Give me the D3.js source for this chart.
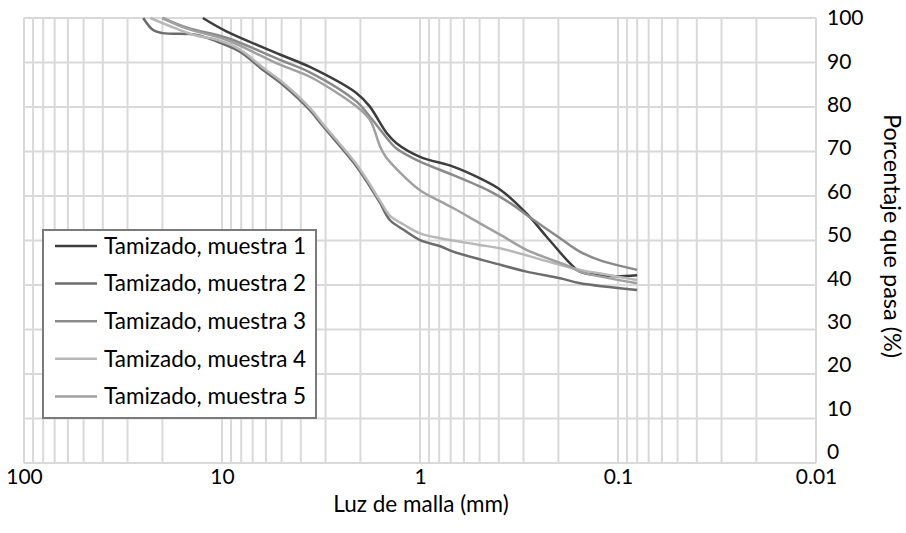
<!DOCTYPE html>
<html>
<head>
<meta charset="utf-8">
<script src="https://cdn.jsdelivr.net/npm/d3@7"></script>
<style>
  html, body { margin: 0; padding: 0; background: #fff; }
  svg { display: block; }
  text { font-family: Lato, "Noto Sans", sans-serif; fill: #000; }
</style>
</head>
<body>
<svg id="chart" width="906" height="533"></svg>
<script>
// Sieve openings (mm) and percentage passing for each sample
const seriesNames = [
  "Tamizado, muestra 1",
  "Tamizado, muestra 2",
  "Tamizado, muestra 3",
  "Tamizado, muestra 4",
  "Tamizado, muestra 5"
];
const seriesColors = ["#3d3d3d", "#6c6c6c", "#8a8a8a", "#b8b8b8", "#a0a0a0"];

const sizes1 = [12.5, 9.5, 5.1, 3.6, 2.09, 1.8, 1.47, 1.31, 1.0, 0.68, 0.5, 0.39, 0.29, 0.23, 0.175, 0.156, 0.11, 0.08];
const pass1  = [100, 97, 91.8, 89, 83.1, 80.2, 74.1, 71.8, 68.8, 66.6, 64, 61.3, 56.1, 50.9, 44.9, 43, 42, 42.2];

const sizes2 = [25, 22.3, 19.9, 13.4, 10.6, 8.1, 6.2, 4.9, 3.6, 3.08, 2.09, 1.79, 1.59, 1.42, 1.21, 1.0, 0.79, 0.68, 0.39, 0.29, 0.196, 0.155, 0.08];
const pass2  = [100, 97.3, 96.6, 96.2, 94.7, 92.4, 88.3, 84.9, 79.3, 75.6, 66.6, 62.1, 58.4, 54.6, 52.4, 50.1, 48.7, 47.5, 44.5, 43, 41.5, 40.4, 38.9];

const sizes3 = [20, 15, 9.4, 5.1, 3.6, 2.09, 1.79, 1.42, 1.31, 1.0, 0.68, 0.44, 0.35, 0.28, 0.196, 0.156, 0.124, 0.08];
const pass3  = [100, 97.8, 95.5, 90.6, 87.8, 81.2, 77.8, 72.2, 70.6, 67.7, 64.7, 61.0, 58.4, 55.3, 50.5, 47.5, 45.6, 43.4];

const sizes4 = [23, 17, 13.4, 10.6, 8.1, 6.2, 4.9, 3.6, 3.08, 2.09, 1.79, 1.59, 1.42, 1.21, 1.0, 0.79, 0.5, 0.39, 0.21, 0.155, 0.11, 0.08];
const pass4  = [100, 97.6, 96.0, 95.1, 92.9, 88.8, 85.4, 79.8, 76.1, 67.1, 62.6, 58.9, 55.6, 53.6, 51.6, 50.5, 49, 48.2, 44.9, 43.4, 42.2, 41.1];

const sizes5 = [20, 15, 9.4, 5.1, 3.6, 2.09, 1.79, 1.59, 1.49, 1.25, 1.0, 0.79, 0.68, 0.5, 0.39, 0.29, 0.175, 0.156, 0.08];
const pass5  = [100, 97.6, 95, 89.5, 86.8, 80.1, 77.1, 71.1, 68.8, 65.1, 61.3, 58.8, 57.3, 53.9, 51.2, 47.9, 44.1, 43, 40.4];

const xTickValues = [100, 10, 1, 0.1, 0.01];
const xTickLabels = ["100", "10", "1", "0.1", "0.01"];
const yTickValues = [0, 10, 20, 30, 40, 50, 60, 70, 80, 90, 100];

const xTitle = "Luz de malla (mm)";
const yTitle = "Porcentaje que pasa (%)";

const allSizes = [sizes1, sizes2, sizes3, sizes4, sizes5];
const allPass = [pass1, pass2, pass3, pass4, pass5];
const series = seriesNames.map((name, i) => ({
  name,
  color: seriesColors[i],
  points: allSizes[i].map((s, j) => ({ size: s, pass: allPass[i][j] }))
}));

const svg = d3.select("#chart");
const plotLeft = 24, plotRight = 816, plotTop = 18, plotBottom = 463;

const x = d3.scaleLog().domain([100, 0.01]).range([plotLeft, plotRight]);
const y = d3.scaleLinear().domain([0, 100]).range([plotBottom, plotTop]);

// Grid: every 1–9 multiple on the log axis, every 10 % on the vertical axis
const grid = svg.append("g").attr("stroke", "#d9d9d9").attr("stroke-width", 2);
grid.selectAll("line.v").data(x.ticks()).join("line")
  .attr("class", "v")
  .attr("x1", d => x(d)).attr("x2", d => x(d))
  .attr("y1", plotTop).attr("y2", plotBottom);
grid.selectAll("line.h").data(yTickValues).join("line")
  .attr("class", "h")
  .attr("x1", plotLeft).attr("x2", plotRight)
  .attr("y1", d => y(d)).attr("y2", d => y(d));

// Bottom axis labels
const xAxis = d3.axisBottom(x)
  .tickValues(xTickValues)
  .tickSize(0)
  .tickPadding(6.5)
  .tickFormat((d, i) => xTickLabels[i]);
const gx = svg.append("g").attr("transform", `translate(0,${plotBottom})`).call(xAxis);
gx.select(".domain").remove();
gx.selectAll("text").attr("font-size", 21).attr("font-family", "Lato, 'Noto Sans', sans-serif");

// Right axis labels (the label column is set slightly tighter than the grid)
const yAxis = d3.axisRight(y)
  .tickValues(yTickValues)
  .tickSize(0)
  .tickPadding(11)
  .tickFormat(d3.format("d"));
const gy = svg.append("g").attr("transform", `translate(${plotRight},0)`).call(yAxis);
gy.select(".domain").remove();
gy.selectAll("text")
  .attr("font-size", 21)
  .attr("font-family", "Lato, 'Noto Sans', sans-serif")
  .attr("y", d => -(100 - d) * 0.11);

// Axis titles
svg.append("text")
  .attr("x", 421).attr("y", 512)
  .attr("text-anchor", "middle").attr("font-size", 22.5)
  .text(xTitle);
svg.append("text")
  .attr("transform", `translate(884,${236}) rotate(90)`)
  .attr("text-anchor", "middle").attr("font-size", 23.5)
  .text(yTitle);

// Curves
const line = d3.line()
  .x(d => x(d.size))
  .y(d => y(d.pass))
  .curve(d3.curveCatmullRom.alpha(0.5));

svg.append("g").selectAll("path").data(series).join("path")
  .attr("fill", "none")
  .attr("stroke", d => d.color)
  .attr("stroke-width", 2.5)
  .attr("stroke-linejoin", "round")
  .attr("d", d => line(d.points));

// Legend
const legend = svg.append("g");
legend.append("rect")
  .attr("x", 43).attr("y", 230)
  .attr("width", 273).attr("height", 188)
  .attr("fill", "#fff")
  .attr("stroke", "#7a7a7a").attr("stroke-width", 2);
const rowY = i => 246 + i * 37.6;
const rows = legend.selectAll("g.row").data(series).join("g").attr("class", "row");
rows.append("line")
  .attr("x1", 55).attr("x2", 97)
  .attr("y1", (d, i) => rowY(i)).attr("y2", (d, i) => rowY(i))
  .attr("stroke", d => d.color).attr("stroke-width", 2.5);
rows.append("text")
  .attr("x", 104).attr("y", (d, i) => rowY(i))
  .attr("dy", "0.35em")
  .attr("font-size", 22.5)
  .text(d => d.name);
</script>
</body>
</html>
